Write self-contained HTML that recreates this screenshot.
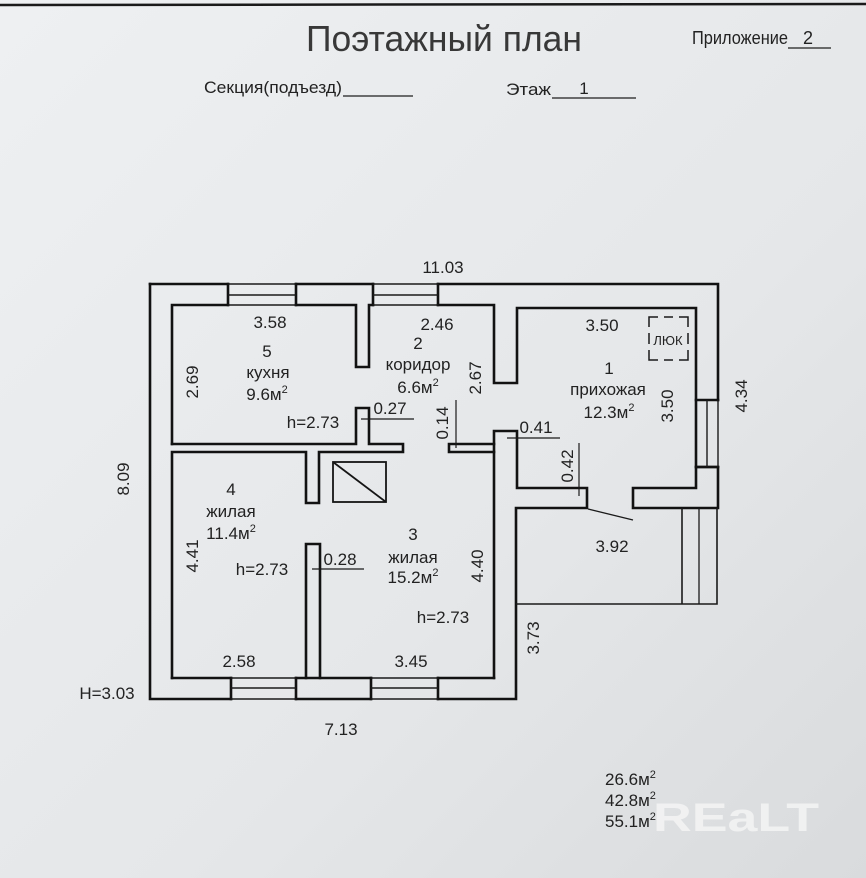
<!DOCTYPE html>
<html><head><meta charset="utf-8">
<style>
html,body{margin:0;padding:0;width:866px;height:878px;overflow:hidden;background:#e6e8ea}
svg{display:block}
text{font-family:"Liberation Sans","DejaVu Sans",sans-serif;fill:#222}
</style></head><body>
<svg width="866" height="878" viewBox="0 0 866 878" xmlns="http://www.w3.org/2000/svg">
<defs>
<linearGradient id="bg" x1="0" y1="0" x2="1" y2="1">
<stop offset="0" stop-color="#eef0f2"/><stop offset="0.6" stop-color="#e5e7e9"/><stop offset="1" stop-color="#d9dbdd"/>
</linearGradient>
</defs>
<rect width="866" height="878" fill="url(#bg)"/>
<!-- top border line -->
<path d="M0,5 L866,4" stroke="#1a1a1a" stroke-width="2.5" fill="none"/>

<!-- Header -->
<text x="306" y="51" font-size="36" textLength="276" lengthAdjust="spacingAndGlyphs" style="fill:#383838">Поэтажный план</text>
<text x="692" y="44" font-size="18" textLength="96" lengthAdjust="spacingAndGlyphs">Приложение</text>
<text x="808" y="44" font-size="18" text-anchor="middle">2</text>
<path d="M788,48 H831" stroke="#1e1e1e" stroke-width="1.2"/>
<text x="204" y="93" font-size="17" textLength="138" lengthAdjust="spacingAndGlyphs">Секция(подъезд)</text>
<path d="M343,96 H413" stroke="#1e1e1e" stroke-width="1.2"/>
<text x="506" y="95" font-size="17" textLength="45" lengthAdjust="spacingAndGlyphs">Этаж</text>
<text x="584" y="94" font-size="17" text-anchor="middle">1</text>
<path d="M552,98 H636" stroke="#1e1e1e" stroke-width="1.2"/>

<!-- Walls (thick) -->
<g stroke="#121212" stroke-width="2.6" fill="none" stroke-linejoin="miter" stroke-linecap="square">
<path d="M150,284 H228"/>
<path d="M296,284 H373"/>
<path d="M438,284 H718 V400"/>
<path d="M228,284 V305 M296,284 V305 M373,284 V305 M438,284 V305"/>
<path d="M231,678 V699 M296,678 V699 M371,678 V699 M438,678 V699"/>
<path d="M696,400 H718 M696,467 H718"/>
<path d="M696,467 H718 V508 H633 V488 H696 Z"/>
<path d="M438,305 H494 V383 H517 V308 H696 V467"/>
<path d="M494,678 V431 H517 V488 H587 V508 H516 V699 H438"/>
<path d="M371,699 H296"/>
<path d="M231,699 H150 V284"/>
<path d="M172,678 H231 M296,678 H371 M438,678 H494"/>
<path d="M172,444 V305 H228"/>
<path d="M296,305 H356 V367 H369 V305 H373"/>
<path d="M172,444 H356 V408 H369 V444 H403 V452 H319 V503 H306 V452 H172 V678"/>
<path d="M306,678 V544 H320 V678"/>
<path d="M494,444 H449 V452 H494"/>
</g>

<!-- Windows (thin) -->
<g stroke="#1a1a1a" stroke-width="1.4" fill="none">
<path d="M228,284 H296 M228,295 H296 M228,305 H296"/>
<path d="M373,284 H438 M373,295 H438 M373,305 H438"/>
<path d="M231,678 H296 M231,688 H296 M231,699 H296"/>
<path d="M371,678 H438 M371,688 H438 M371,699 H438"/>
<path d="M707,400 V467 M718,400 V467"/>
</g>

<!-- Chimney -->
<g stroke="#151515" stroke-width="1.8" fill="none">
<rect x="333" y="462" width="53" height="40"/>
<path d="M333,462 L386,502"/>
</g>

<!-- Veranda -->
<g stroke="#1a1a1a" stroke-width="1.6" fill="none">
<path d="M717,508 V604 H516"/>
<path d="M682,508 V604"/>
<path d="M699,508 V604" stroke-width="1.3"/>
<path d="M588,509 L633,520" stroke-width="1.4"/>
</g>

<!-- Dimension lines -->
<g stroke="#1a1a1a" stroke-width="1.2" fill="none">
<path d="M361,419 H414"/>
<path d="M456,400 V448"/>
<path d="M507,438 H560"/>
<path d="M579,443 V496"/>
<path d="M312,569 H364"/>
</g>

<!-- ЛЮК dashed -->
<g stroke="#1a1a1a" stroke-width="1.5" fill="none">
<path d="M649,327 V317 H658 M664,317 H673 M679,317 H688 V327 M688,333 V344 M688,350 V360 H679 M673,360 H664 M658,360 H649 V350 M649,344 V333"/>
</g>
<text x="668" y="345" font-size="13" text-anchor="middle">ЛЮК</text>

<!-- Labels -->
<g font-size="17" text-anchor="middle">
<text x="443" y="273">11.03</text>
<text x="270" y="328">3.58</text>
<text x="267" y="357">5</text>
<text x="268" y="378">кухня</text>
<text x="267" y="400">9.6м<tspan font-size="11" dy="-7">2</tspan></text>
<text x="313" y="428">h=2.73</text>
<text x="390" y="414">0.27</text>
<text x="437" y="330">2.46</text>
<text x="418" y="349">2</text>
<text x="418" y="370">коридор</text>
<text x="418" y="393">6.6м<tspan font-size="11" dy="-7">2</tspan></text>
<text x="602" y="331">3.50</text>
<text x="609" y="374">1</text>
<text x="608" y="395">прихожая</text>
<text x="609" y="418">12.3м<tspan font-size="11" dy="-7">2</tspan></text>
<text x="536" y="433">0.41</text>
<text x="231" y="495">4</text>
<text x="231" y="517">жилая</text>
<text x="231" y="539">11.4м<tspan font-size="11" dy="-7">2</tspan></text>
<text x="262" y="575">h=2.73</text>
<text x="340" y="565">0.28</text>
<text x="413" y="540">3</text>
<text x="413" y="563">жилая</text>
<text x="413" y="583">15.2м<tspan font-size="11" dy="-7">2</tspan></text>
<text x="443" y="623">h=2.73</text>
<text x="612" y="552">3.92</text>
<text x="239" y="667">2.58</text>
<text x="411" y="667">3.45</text>
<text x="107" y="699">H=3.03</text>
<text x="341" y="735">7.13</text>
<text transform="translate(198,382) rotate(-90)">2.69</text>
<text transform="translate(481,378) rotate(-90)">2.67</text>
<text transform="translate(448,423) rotate(-90)">0.14</text>
<text transform="translate(673,406) rotate(-90)">3.50</text>
<text transform="translate(573,466) rotate(-90)">0.42</text>
<text transform="translate(747,396) rotate(-90)">4.34</text>
<text transform="translate(129,479) rotate(-90)">8.09</text>
<text transform="translate(198,556) rotate(-90)">4.41</text>
<text transform="translate(483,566) rotate(-90)">4.40</text>
<text transform="translate(539,638) rotate(-90)">3.73</text>
</g>

<!-- Watermark -->
<text x="653" y="831" font-size="40" font-weight="bold" textLength="166" lengthAdjust="spacingAndGlyphs" style="fill:#f6f6f6;opacity:0.8">REaLT</text>

<!-- Areas -->
<g font-size="17">
<text x="605" y="785">26.6м<tspan font-size="11" dy="-7">2</tspan></text>
<text x="605" y="806">42.8м<tspan font-size="11" dy="-7">2</tspan></text>
<text x="605" y="827">55.1м<tspan font-size="11" dy="-7">2</tspan></text>
</g>
</svg>
</body></html>
